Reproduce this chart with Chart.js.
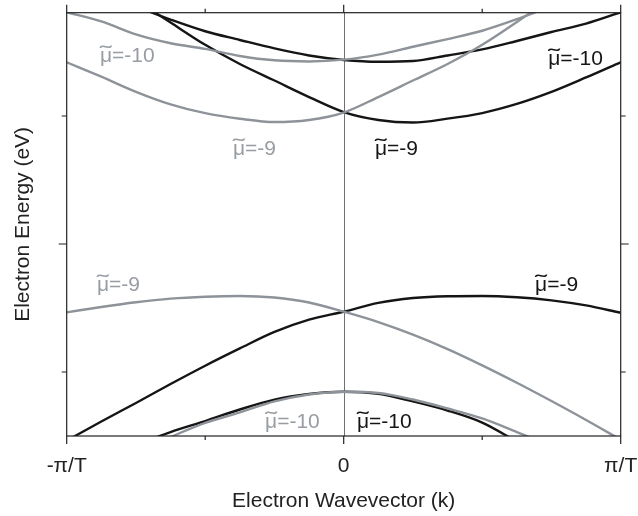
<!DOCTYPE html>
<html>
<head>
<meta charset="utf-8">
<script src="https://cdn.jsdelivr.net/npm/chart.js@4.4.0/dist/chart.umd.min.js"></script>
<style>
  html, body { margin: 0; padding: 0; background: #fff; }
</style>
</head>
<body>
<canvas id="bandChart" width="638" height="516"></canvas>
<script>
// wavevector k in units of pi/T
const k = [-1, -0.875, -0.75, -0.625, -0.5, -0.375, -0.25, -0.125, 0, 0.125, 0.25, 0.375, 0.5, 0.625, 0.75, 0.875, 1];

// band energies (arbitrary units)
const grayUpper10  = [3.310, 3.239, 3.137, 3.068, 3.024, 2.969, 2.935, 2.926, 2.940, 2.980, 3.041, 3.101, 3.166, 3.256, 3.359, null, null];
const blackUpper10 = [null, null, 3.355, 3.253, 3.162, 3.094, 3.028, 2.973, 2.938, 2.924, 2.930, 2.973, 3.020, 3.086, 3.156, 3.222, 3.310];
const grayUpper9   = [2.920, 2.807, 2.689, 2.591, 2.522, 2.479, 2.453, 2.469, 2.527, 2.648, 2.777, 2.906, 3.056, 3.234, 3.422, null, null];
const blackUpper9  = [null, null, 3.406, 3.230, 3.056, 2.906, 2.777, 2.648, 2.531, 2.469, 2.449, 2.479, 2.523, 2.594, 2.688, 2.801, 2.920];
const grayLower9   = [0.966, 1.008, 1.045, 1.073, 1.088, 1.094, 1.082, 1.043, 0.971, 0.890, 0.792, 0.679, 0.552, 0.416, 0.273, 0.125, -0.029];
const blackLower9  = [-0.036, 0.113, 0.258, 0.406, 0.549, 0.684, 0.813, 0.909, 0.971, 1.040, 1.078, 1.092, 1.094, 1.084, 1.060, 1.020, 0.963];
const blackLower10 = [null, null, -0.070, 0.031, 0.117, 0.207, 0.284, 0.328, 0.346, 0.330, 0.270, 0.199, 0.105, -0.043, null, null, null];
const grayLower10  = [null, null, -0.125, -0.008, 0.102, 0.184, 0.270, 0.324, 0.346, 0.336, 0.285, 0.215, 0.137, 0.031, -0.078, null, null];

// axis ticks
const xTickLabels = { '-1': '-\u03c0/T', '0': '0', '1': '\u03c0/T' };
const xMajor = [-1, 0, 1];
const xMinor = [-0.5, 0.5];
const yMajor = [1.5];
const yMinor = [0.5, 2.5];

const GRAY = '#8d9399';
const GRAY_TEXT = '#989da3';
const BLACK = '#151515';
const FONT = '"Liberation Sans", Arial, Helvetica, sans-serif';

// band labels: mu-tilde value, k, energy, color
const bandLabels = [
  ['=-10', -0.880, 2.920, GRAY_TEXT],
  ['=-9', -0.400, 2.195, GRAY_TEXT],
  ['=-9', 0.113, 2.195, BLACK],
  ['=-10', 0.738, 2.898, BLACK],
  ['=-9', -0.891, 1.133, GRAY_TEXT],
  ['=-9', 0.691, 1.133, BLACK],
  ['=-10', -0.284, 0.0625, GRAY_TEXT],
  ['=-10', 0.048, 0.0625, BLACK]
];

function band(values, color) {
  return {
    data: k.map((x, i) => ({ x: x, y: values[i] })),
    borderColor: color,
    borderWidth: 2.4,
    pointRadius: 0,
    fill: false,
    cubicInterpolationMode: 'monotone',
    spanGaps: false
  };
}

const framePlugin = {
  id: 'frame',
  beforeDatasetsDraw(chart) {
    const { ctx, chartArea: a, scales: { x } } = chart;
    const x0 = Math.round(x.getPixelForValue(0)) + 0.5;
    ctx.save();
    ctx.strokeStyle = '#707070';
    ctx.lineWidth = 1;
    ctx.beginPath();
    ctx.moveTo(x0, a.top);
    ctx.lineTo(x0, a.bottom);
    ctx.stroke();
    ctx.restore();
  },
  afterDatasetsDraw(chart) {
    const { ctx, chartArea: a, scales: { x, y } } = chart;
    ctx.save();
    ctx.strokeStyle = '#222';
    ctx.lineWidth = 1.2;
    ctx.strokeRect(a.left, a.top, a.right - a.left, a.bottom - a.top);

    ctx.beginPath();
    const xt = (v, len) => {
      const px = x.getPixelForValue(v);
      ctx.moveTo(px, a.bottom); ctx.lineTo(px, a.bottom + len);
      ctx.moveTo(px, a.top); ctx.lineTo(px, a.top - len);
    };
    const yt = (v, len) => {
      const py = y.getPixelForValue(v);
      ctx.moveTo(a.left, py); ctx.lineTo(a.left - len, py);
      ctx.moveTo(a.right, py); ctx.lineTo(a.right + len, py);
    };
    xMajor.forEach(v => xt(v, 8));
    xMinor.forEach(v => xt(v, 4));
    yMajor.forEach(v => yt(v, 8));
    yMinor.forEach(v => yt(v, 5));
    ctx.stroke();

    ctx.font = '21px ' + FONT;
    ctx.textAlign = 'left';
    ctx.textBaseline = 'alphabetic';
    const muW = ctx.measureText('\u03bc').width;
    bandLabels.forEach(([text, kv, ev, color]) => {
      const px = x.getPixelForValue(kv);
      const py = y.getPixelForValue(ev);
      ctx.fillStyle = color;
      ctx.fillText('\u03bc' + text, px, py);
      // tilde over mu
      ctx.save();
      ctx.translate(px + muW / 2, py - 2);
      ctx.scale(1.7, 1);
      ctx.textAlign = 'center';
      ctx.fillText('\u02dc', 0, 0);
      ctx.restore();
    });
    ctx.restore();
  }
};

new Chart(document.getElementById('bandChart').getContext('2d'), {
  type: 'line',
  data: {
    datasets: [
      band(grayUpper10, GRAY),
      band(grayUpper9, GRAY),
      band(grayLower9, GRAY),
      band(grayLower10, GRAY),
      band(blackUpper10, BLACK),
      band(blackUpper9, BLACK),
      band(blackLower9, BLACK),
      band(blackLower10, BLACK)
    ]
  },
  options: {
    responsive: false,
    animation: false,
    events: [],
    layout: { padding: { left: 0, right: 17.3, top: 12.7, bottom: 0 } },
    plugins: { legend: { display: false }, tooltip: { enabled: false } },
    scales: {
      x: {
        type: 'linear',
        min: -1,
        max: 1,
        grid: { display: false },
        border: { display: false },
        afterFit: s => { s.height = 80; s.paddingLeft = 0; s.paddingRight = 0; },
        afterBuildTicks: s => { s.ticks = xMajor.map(v => ({ value: v })); },
        ticks: {
          color: '#222',
          padding: 10,
          font: { family: FONT, size: 21 },
          maxRotation: 0,
          autoSkip: false,
          callback: v => xTickLabels[String(v)] || ''
        },
        title: {
          display: true,
          text: 'Electron Wavevector (k)',
          color: '#222',
          font: { family: FONT, size: 21 },
          padding: { top: 4, bottom: 2 }
        }
      },
      y: {
        type: 'linear',
        min: 0,
        max: 3.307,
        grid: { display: false },
        border: { display: false },
        afterFit: s => { s.width = 66.7; },
        ticks: { display: false },
        title: {
          display: true,
          text: 'Electron Energy (eV)',
          color: '#222',
          font: { family: FONT, size: 21 },
          padding: { top: 11, bottom: 4 }
        }
      }
    }
  },
  plugins: [framePlugin]
});
</script>
</body>
</html>
